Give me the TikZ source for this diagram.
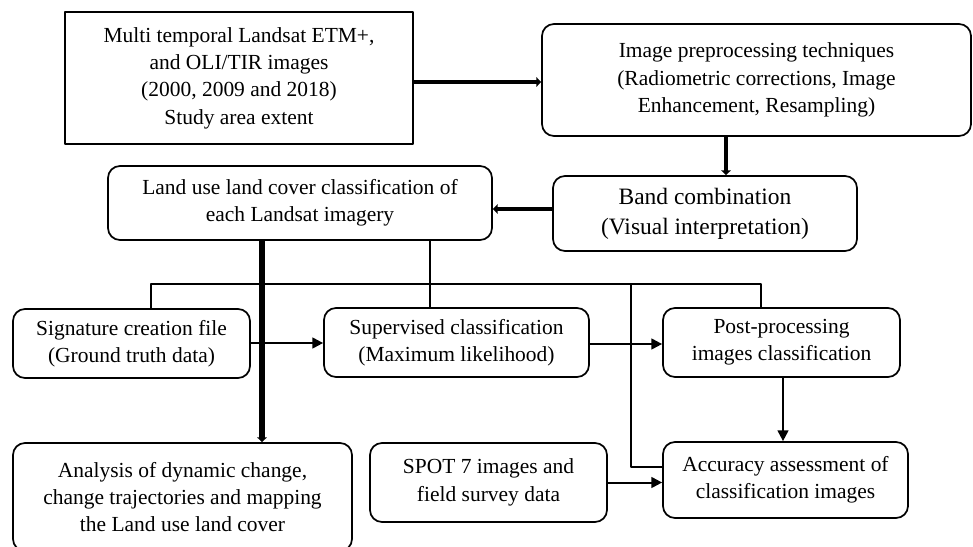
\documentclass[tikz,border=0pt]{standalone}
\usepackage{fontspec}
\setmainfont{Liberation Serif}
\usetikzlibrary{arrows.meta}

\begin{document}
\begin{tikzpicture}[x=0.75pt, y=-0.75pt, line join=round,
        font=\fontsize{16.1}{20.5}\selectfont,
        box/.style={draw, line width=1.3pt, rounded corners=9pt, align=center, inner sep=0pt},
        wh/.style 2 args={minimum width=#1*0.75pt, minimum height=#2*0.75pt},
        heavy/.style={line width=3.2pt, -{Triangle[length=3.5pt,width=7pt]}},
        flow/.style={line width=1.5pt, -{Triangle[length=8pt,width=8pt]}},
        link/.style={line width=0.8pt}]
    \useasboundingbox (0,0) rectangle (973,546);
    % boxes
    \node[box, sharp corners, wh={348}{132}] (src) at (239,78) {Multi temporal Landsat ETM+,\\ and OLI/TIR images\\ (2000, 2009 and 2018)\\ Study area extent};
    \node[box, wh={429}{112}] (prep) at (756.5,80) {Image preprocessing techniques\\ (Radiometric corrections, Image\\ Enhancement, Resampling)};
    \node[box, wh={304}{75}, font=\fontsize{17.6}{22.5}\selectfont] (band) at (705,213.5) {Band combination\\ (Visual interpretation)};
    \node[box, wh={384}{74}] (lulc) at (300,203) {Land use land cover classification of\\ each Landsat imagery};
    \node[box, wh={237}{69}] (sig) at (131.5,343.5) {Signature creation file\\ (Ground truth data)};
    \node[box, wh={265}{69}] (sup) at (456.5,342.5) {Supervised classification\\ (Maximum likelihood)};
    \node[box, wh={237}{69}] (post) at (781.5,342.5) {Post-processing\\ images classification};
    \node[box, wh={339}{108}] (anal) at (182.5,497) {Analysis of dynamic change,\\ change trajectories and mapping\\ the Land use land cover};
    \node[box, wh={237}{79}] (spot) at (488.5,482.5) {SPOT 7 images and\\ field survey data};
    \node[box, wh={245}{76}] (acc) at (785.5,480) {Accuracy assessment of\\ classification images};
    % helper points
    \coordinate (pb) at (726,0); \coordinate (bl) at (0,209); \coordinate (tk) at (262,0);
    \coordinate (stem) at (430,284); \coordinate (bl1) at (151,284); \coordinate (br) at (761,284);
    \coordinate (ac) at (631,284); \coordinate (ay) at (0,467);
    % thin tree
    \draw[link] (lulc.south -| stem) -- (stem);
    \draw[link] (sig.north -| bl1) -- (bl1) -- (br) -- (post.north -| br);
    \draw[link] (stem) -- (sup.north -| stem);
    \draw[link] (ac) |- (acc.west |- ay);
    % arrows
    \draw[heavy] (src.east |- 0,82) -- (prep.west |- 0,82);
    \draw[heavy] (prep.south -| pb) -- (band.north -| pb);
    \draw[heavy] (band.west |- bl) -- (lulc.east |- bl);
    \draw[heavy, line width=4.5pt] (lulc.south -| tk) -- (anal.north -| tk);
    \draw[flow] (sig.east |- 0,343) -- (sup.west |- 0,343);
    \draw[flow] (sup.east |- 0,344) -- (post.west |- 0,344);
    \draw[flow] (post.south -| 783,0) -- (acc.north -| 783,0);
    \draw[flow] (spot.east) -- (acc.west |- spot.east);
\end{tikzpicture}
\end{document}
